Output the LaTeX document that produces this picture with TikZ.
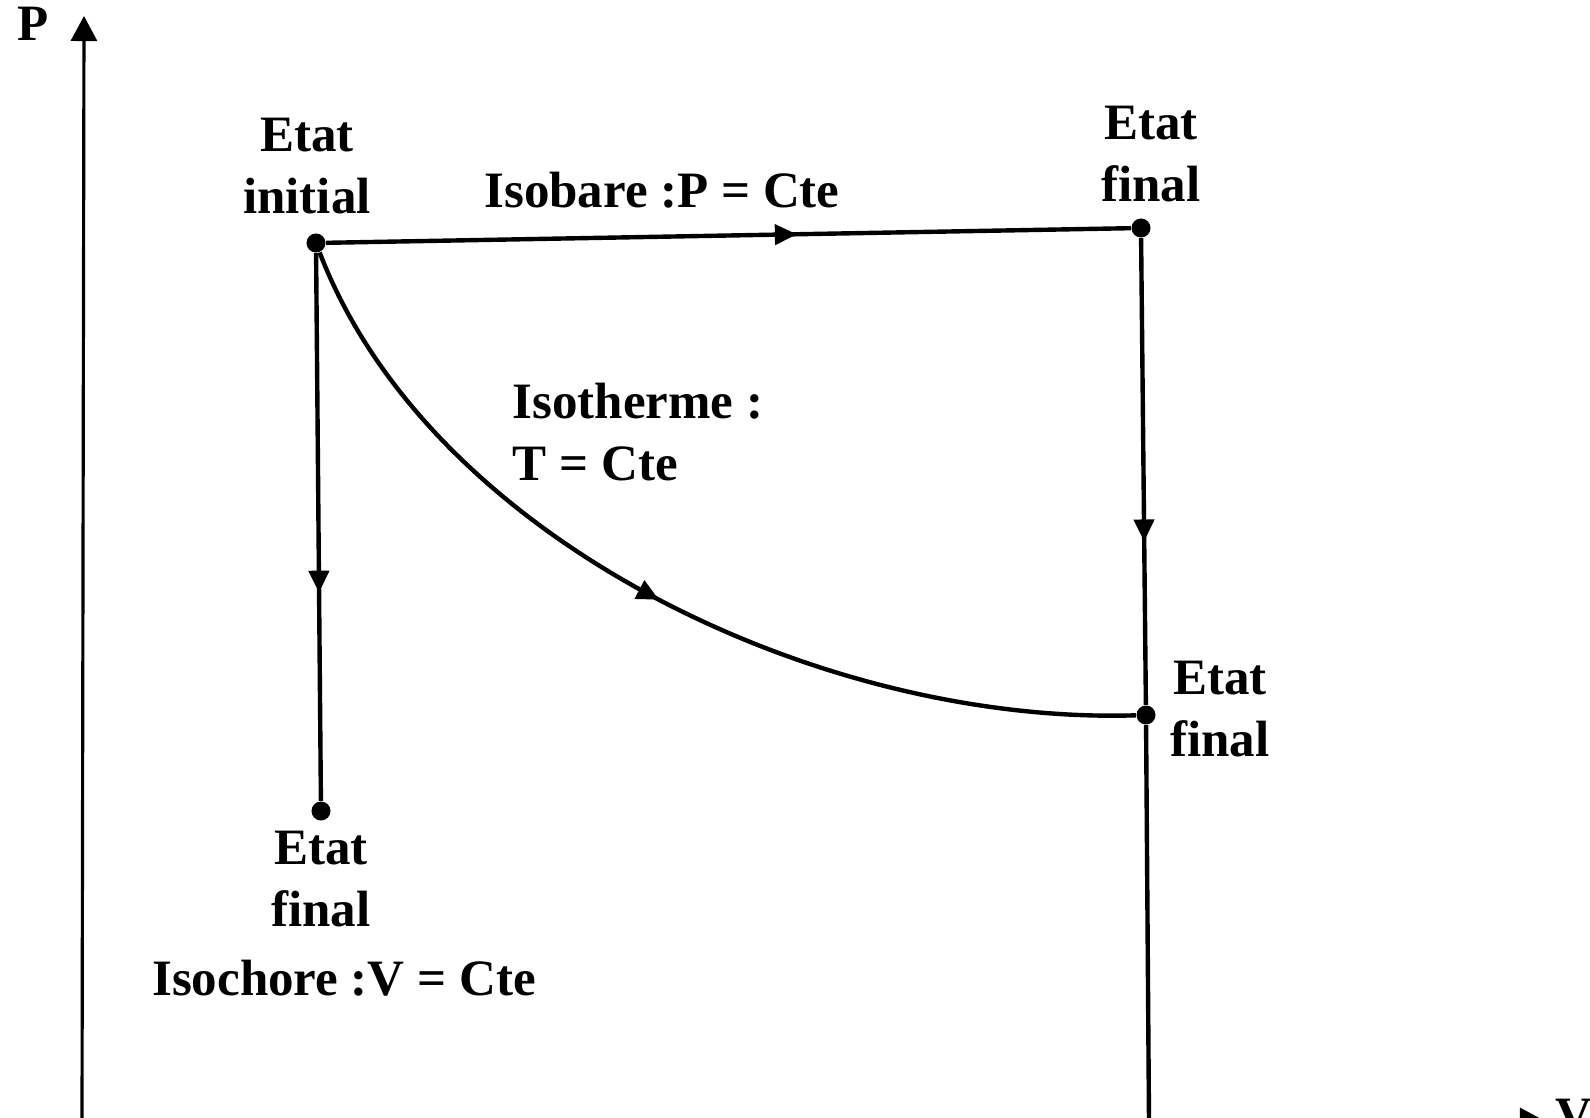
\documentclass[tikz,border=0pt]{standalone}
\usepackage{fontspec}
\setmainfont{Liberation Serif}
\usetikzlibrary{arrows.meta, decorations.markings}

\begin{document}
\begin{tikzpicture}[
  x=0.01cm, y=-0.01cm,
  font=\fontsize{14.5}{17.6}\selectfont\bfseries,
  etat/.style={circle, fill=black, inner sep=0pt, minimum size=1.9mm},
  lab/.style={align=center, inner sep=0pt},
  axe/.style={line width=0.9pt, -{Triangle[length=2.5mm, width=2.6mm]}},
  trajet/.style={line width=1.25pt},
  fleche/.style={postaction={decorate}, decoration={markings, mark=at position #1 with {\arrow{Triangle[length=2.2mm, width=2mm]}}}}
]
\path[use as bounding box, clip] (0,0) rectangle (1590,1118);

\coordinate (o) at (82,1121);
\coordinate (ptop) at (84,16);
\coordinate (vend) at (1545,1121);
\coordinate (bas) at (1149,1121);

\draw[axe] (o) -- (ptop);
\draw[axe] (o) -- (vend);
\node (plab) at (33,24) {P};
\node[anchor=west, inner sep=0pt] (vlab) at (1555,1116) {V};

\node[etat] (init) at (316,243) {};
\node[etat] (fisob) at (1141,228) {};
\node[etat] (fisoch) at (321,811) {};
\node[etat] (fisot) at (1146,715) {};

\draw[trajet, fleche=0.585] (init) -- (fisob);
\draw[trajet, fleche=0.62] (init) -- (fisoch);
\draw[trajet, fleche=0.65] (fisob) -- (fisot);
\draw[trajet] (fisot) -- (bas);
\draw[trajet, fleche=0.5] (init) .. controls (430,540) and (820,725) .. (fisot);

\node[lab] (linit) at (307,166) {Etat\\initial};
\node[lab] (lisob) at (662,190) {Isobare :P = Cte};
\node[lab] (lfisob) at (1151,154) {Etat\\final};
\node[lab, align=left, anchor=west] (lisot) at (512,432) {Isotherme :\\T = Cte};
\node[lab] (lfisot) at (1220,709) {Etat\\final};
\node[lab] (lfisoch) at (321,879) {Etat\\final};
\node[lab] (lisoch) at (344,978) {Isochore :V = Cte};
\end{tikzpicture}
\end{document}
